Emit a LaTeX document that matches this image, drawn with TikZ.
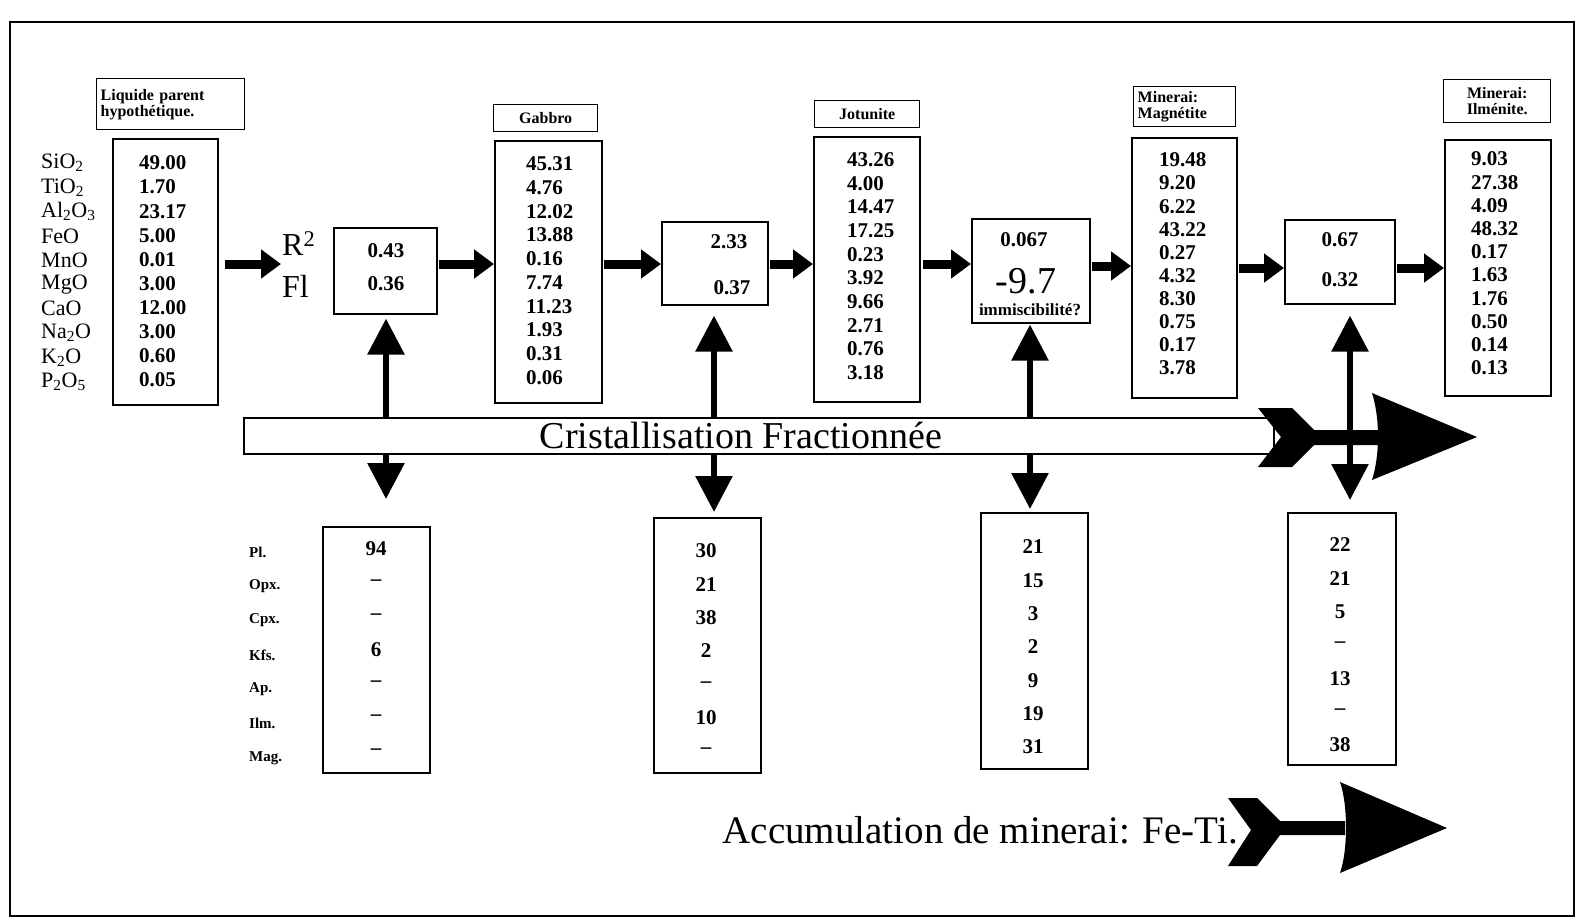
\documentclass[tikz,border=0pt]{standalone}
\usepackage{fontspec}
\setmainfont{Liberation Serif}
\usetikzlibrary{positioning, arrows.meta}

\begin{document}
\begin{tikzpicture}[x=1pt, y=-1pt,
        box/.style={draw, line width=1.6pt, anchor=north west, inner sep=0pt},
        tag/.style={draw, line width=1.4pt, anchor=north west,
            font=\fontsize{16}{16}\selectfont\bfseries},
        num/.style={font=\fontsize{21}{21}\selectfont\bfseries, inner sep=0pt},
        oxide/.style={font=\fontsize{22}{22}\selectfont, anchor=west, inner sep=0pt},
        mineral/.style={font=\fontsize{15}{15}\selectfont\bfseries, anchor=west, inner sep=0pt},
        flow/.style={line width=9pt, -{Triangle[length=20pt, width=28pt]}},
        link/.style={line width=6pt, {Triangle[length=36pt, width=36pt]}-{Triangle[length=36pt, width=36pt]}}]
    \useasboundingbox (0,0) rectangle (1580,922);
    \draw[line width=1.5pt] (10,22) rectangle (1574,916);

    % Titles
    \node (liqtag) [tag, align=left, text width=140pt, inner xsep=4pt, minimum height=51pt] at (96,78) {Liquide parent\\hypothétique.};
    \node (gabtag) [tag, minimum width=104pt, minimum height=27pt] at (493,104) {Gabbro};
    \node (jottag) [tag, minimum width=105pt, minimum height=27pt] at (814,100) {Jotunite};
    \node (magtag) [tag, align=left, text width=94pt, inner xsep=4pt, minimum height=40pt] at (1133,86) {Minerai:\\Magnétite};
    \node (ilmtag) [tag, align=center, text width=95pt, inner xsep=6pt, minimum height=43pt] at (1443,79) {Minerai:\\Ilménite.};

    % Compositions
    \node (liqbox) [box, minimum width=105pt, minimum height=266pt] at (112,138) {};
    \node (gabbox) [box, minimum width=107pt, minimum height=262pt] at (494,140) {};
    \node (jotbox) [box, minimum width=106pt, minimum height=265pt] at (813,136) {};
    \node (magbox) [box, minimum width=105pt, minimum height=260pt] at (1131,137) {};
    \node (ilmbox) [box, minimum width=106pt, minimum height=256pt] at (1444,139) {};

    \foreach \ox [count=\i] in {SiO\textsubscript{2}, TiO\textsubscript{2}, Al\textsubscript{2}O\textsubscript{3}, FeO, MnO, MgO, CaO, Na\textsubscript{2}O, K\textsubscript{2}O, P\textsubscript{2}O\textsubscript{5}}
        \node[oxide] (ox-\i) at (41, {163+(\i-1)*24.3}) {\ox};
    \foreach \v [count=\i] in {49.00,1.70,23.17,5.00,0.01,3.00,12.00,3.00,0.60,0.05}
        \node[num, anchor=west] (liq-\i) at (139, {163+(\i-1)*24.1}) {\v};
    \foreach \v [count=\i] in {45.31,4.76,12.02,13.88,0.16,7.74,11.23,1.93,0.31,0.06}
        \node[num, anchor=west] (gab-\i) at (526, {164+(\i-1)*23.7}) {\v};
    \foreach \v [count=\i] in {43.26,4.00,14.47,17.25,0.23,3.92,9.66,2.71,0.76,3.18}
        \node[num, anchor=west] (jot-\i) at (847, {160+(\i-1)*23.6}) {\v};
    \foreach \v [count=\i] in {19.48,9.20,6.22,43.22,0.27,4.32,8.30,0.75,0.17,3.78}
        \node[num, anchor=west] (mag-\i) at (1159, {160+(\i-1)*23.1}) {\v};
    \foreach \v [count=\i] in {9.03,27.38,4.09,48.32,0.17,1.63,1.76,0.50,0.14,0.13}
        \node[num, anchor=west] (ilm-\i) at (1471, {159+(\i-1)*23.2}) {\v};

    % R2 / Fl
    \node (rsq) [font=\fontsize{32}{32}\selectfont, inner sep=1pt, anchor=west] at (281,244) {R\textsuperscript{2}};
    \node (fl) [font=\fontsize{32}{32}\selectfont, inner sep=1pt, anchor=west] at (281,286) {Fl};

    \node (fit1) [box, minimum width=103pt, minimum height=86pt] at (333,227) {};
    \node (fit2) [box, minimum width=106pt, minimum height=83pt] at (661,221) {};
    \node (fit3) [box, minimum width=118pt, minimum height=104pt] at (971,218) {};
    \node (fit4) [box, minimum width=110pt, minimum height=84pt] at (1284,219) {};

    \node[num] (r1) at (386,251) {0.43};
    \node[num] (f1) at (386,284) {0.36};
    \node[num] (r2) at (729,242) {2.33};
    \node[num] (f2) at (732,288) {0.37};
    \node[num] (r3) at (1024,240) {0.067};
    \node (f3) [font=\fontsize{38}{38}\selectfont, inner sep=0pt] at (1026,281) {-9.7};
    \node (imm) [font=\fontsize{17}{17}\selectfont\bfseries, inner sep=0pt] at (1030,310) {immiscibilité?};
    \node[num] (r4) at (1340,240) {0.67};
    \node[num] (f4) at (1340,280) {0.32};

    % Arrows
    \coordinate (lvl) at (0,264);
    \draw[flow, shorten <=6pt] (liqbox.east |- lvl) -- (rsq.west |- lvl);
    \draw[flow, shorten <=1pt] (fit1.east |- lvl) -- (gabbox.west |- lvl);
    \draw[flow, shorten <=1pt] (gabbox.east |- lvl) -- (fit2.west |- lvl);
    \draw[flow, shorten <=1pt] (fit2.east |- lvl) -- (jotbox.west |- lvl);
    \draw[flow, shorten <=2pt] (jotbox.east |- lvl) -- (fit3.west |- lvl);
    \draw[flow, shorten <=1pt] ([yshift=-2pt]fit3.east |- lvl) -- ([yshift=-2pt]magbox.west |- lvl);
    \draw[flow, shorten <=1pt] ([yshift=-4pt]magbox.east |- lvl) -- ([yshift=-4pt]fit4.west |- lvl);
    \draw[flow, shorten <=1pt] ([yshift=-4pt]fit4.east |- lvl) -- ([yshift=-4pt]ilmbox.west |- lvl);

    % Cumulates
    \node (frac1) [box, minimum width=107pt, minimum height=246pt] at (322,526) {};
    \node (frac2) [box, minimum width=107pt, minimum height=255pt] at (653,517) {};
    \node (frac3) [box, minimum width=107pt, minimum height=256pt] at (980,512) {};
    \node (frac4) [box, minimum width=108pt, minimum height=252pt] at (1287,512) {};

    \foreach \m [count=\i] in {Pl., Opx., Cpx., Kfs., Ap., Ilm., Mag.}
        \node[mineral] (min-\i) at (249, {552+(\i-1)*34.3}) {\m};
    \foreach \v [count=\i] in {94,--,--,6,--,--,--}
        \node[num] (c1-\i) at (376, {549+(\i-1)*33.7}) {\v};
    \foreach \v [count=\i] in {30,21,38,2,--,10,--}
        \node[num] (c2-\i) at (706, {551+(\i-1)*33.3}) {\v};
    \foreach \v [count=\i] in {21,15,3,2,9,19,31}
        \node[num] (c3-\i) at (1033, {547+(\i-1)*33.3}) {\v};
    \foreach \v [count=\i] in {22,21,5,--,13,--,38}
        \node[num] (c4-\i) at (1340, {545+(\i-1)*33.3}) {\v};

    \coordinate (col1) at (386,0);
    \coordinate (col2) at (714,0);
    \coordinate (col3) at (1030,0);
    \coordinate (col4) at (1350,0);
    \draw[link, shorten <=4pt, shorten >=27pt] (fit1.south -| col1) -- (frac1.north -| col1);
    \draw[link, shorten <=10pt, shorten >=5pt] (fit2.south -| col2) -- (frac2.north -| col2);
    \draw[link, shorten <=1pt, shorten >=3pt] (fit3.south -| col3) -- (frac3.north -| col3);

    % Fractional crystallisation band
    \node (band) [box, fill=white, minimum width=1030pt, minimum height=36pt] at (243,417) {};
    \node (bandtext) [font=\fontsize{38}{38}\selectfont, inner sep=0pt] at (741,435) {Cristallisation Fractionnée};
    \fill (1258,408) -- (1292,408) -- (1314,430) -- (1378,430) -- (1378,445) -- (1314,445)
        -- (1292,467) -- (1258,467) -- (1281,437) -- cycle;
    \fill (1372,393) -- (1477,437) -- (1372,480) .. controls (1380,455) and (1380,418) .. (1372,393) -- cycle;

    \draw[link, shorten <=11pt, shorten >=12pt] (fit4.south -| col4) -- (frac4.north -| col4);

    % Fe-Ti accumulation
    \node (accu) [font=\fontsize{39}{39}\selectfont, inner sep=0pt, anchor=east] at (1238,830) {Accumulation de minerai: Fe-Ti.};
    \fill (1228,798) -- (1257,798) -- (1280,821) -- (1345,821) -- (1345,835) -- (1280,835)
        -- (1257,866) -- (1228,866) -- (1251,830) -- cycle;
    \fill (1340,782) -- (1447,828) -- (1340,873) .. controls (1348,850) and (1348,805) .. (1340,782) -- cycle;
\end{tikzpicture}
\end{document}
